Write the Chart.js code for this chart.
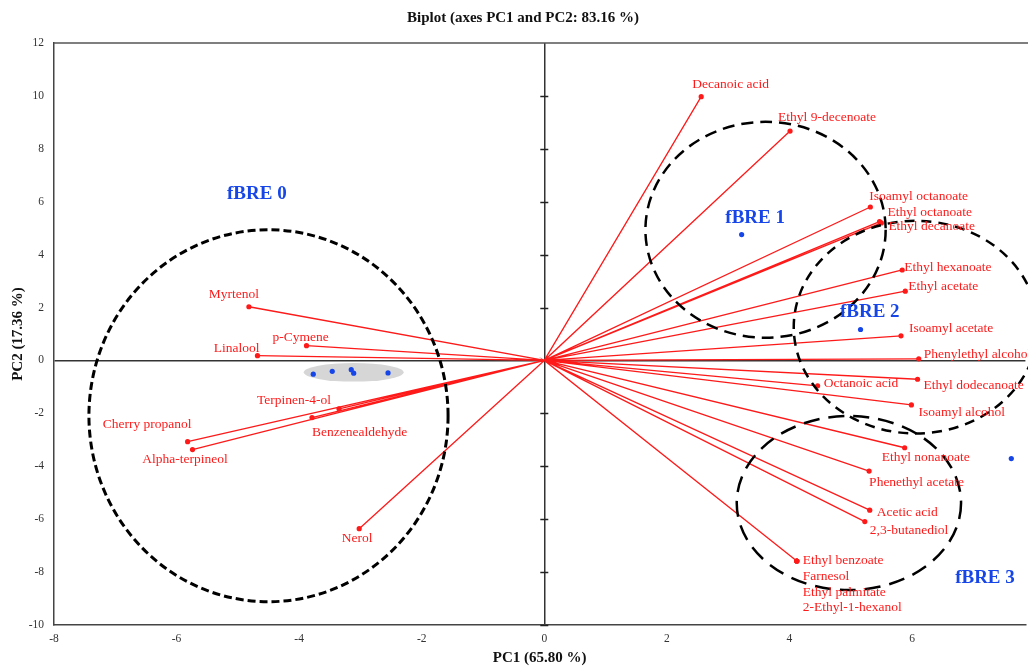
<!DOCTYPE html>
<html>
<head>
<meta charset="utf-8">
<title>Biplot (axes PC1 and PC2)</title>
<script src="https://cdn.jsdelivr.net/npm/chart.js@4.4.1/dist/chart.umd.min.js"></script>
<style>
    html, body { margin: 0; padding: 0; background: #fff; }
    #wrap { width: 1028px; height: 666px; }
</style>
</head>
<body>
<div id="wrap"><canvas id="biplot"></canvas></div>
<script>
// Variables (loadings)
const varNames = [
    'Decanoic acid', 'Ethyl 9-decenoate', 'Isoamyl octanoate', 'Ethyl octanoate', 'Ethyl decanoate',
    'Ethyl hexanoate', 'Ethyl acetate', 'Isoamyl acetate', 'Phenylethyl alcohol', 'Ethyl dodecanoate',
    'Octanoic acid', 'Isoamyl alcohol', 'Ethyl nonanoate', 'Phenethyl acetate', 'Acetic acid',
    '2,3-butanediol', 'Ethyl benzoate', 'Farnesol', 'Ethyl palmitate', '2-Ethyl-1-hexanol',
    'Myrtenol', 'p-Cymene', 'Linalool', 'Terpinen-4-ol', 'Benzenealdehyde',
    'Cherry propanol', 'Alpha-terpineol', 'Nerol'
];
const varPC1 = [
    2.56, 4.01, 5.32, 5.47, 5.50,
    5.84, 5.89, 5.82, 6.11, 6.09,
    4.46, 5.99, 5.88, 5.30, 5.31,
    5.23, 4.12, 4.12, 4.12, 4.12,
    -4.82, -3.88, -4.68, -3.35, -3.79,
    -5.82, -5.74, -3.02
];
const varPC2 = [
    9.97, 8.67, 5.80, 5.25, 5.20,
    3.42, 2.62, 0.93, 0.06, -0.71,
    -0.96, -1.68, -3.30, -4.18, -5.66,
    -6.09, -7.58, -7.58, -7.58, -7.58,
    2.03, 0.56, 0.18, -1.83, -2.16,
    -3.07, -3.37, -6.36
];

// Observations (scores)
const obsPC1 = [-3.77, -3.46, -3.15, -3.11, -2.55, 3.22, 5.16, 7.62];
const obsPC2 = [-0.52, -0.41, -0.35, -0.48, -0.47, 4.76, 1.17, -3.71];

// Groups and their ellipses (PC units)
const groupNames = ['fBRE 0', 'fBRE 1', 'fBRE 2', 'fBRE 3'];
const groupCX = [-4.50, 3.61, 6.06, 4.97];
const groupCY = [-2.09, 4.94, 1.26, -5.39];
const groupRX = [2.93, 1.96, 1.99, 1.83];
const groupRY = [7.03, 4.08, 4.02, 3.29];

// Grey ellipse around the fBRE 0 scores
const shadeCX = -3.11, shadeCY = -0.45, shadeRX = 0.815, shadeRY = 0.35;

const xTicks = [-8, -6, -4, -2, 0, 2, 4, 6];
const yTicks = [-10, -8, -6, -4, -2, 0, 2, 4, 6, 8, 10, 12];

// label placement: [dx, dy, align] in px from the point
const varLabelPos = [
    [-9, -12, 'left'], [-12, -14, 'left'], [-1, -11, 'left'], [8, -9, 'left'], [7, 4, 'left'],
    [2, -3, 'left'], [3, -5, 'left'], [8, -7, 'left'], [5, -4, 'left'], [6, 6, 'left'],
    [6, -2, 'left'], [7, 8, 'left'], [-23, 10, 'left'], [0, 11, 'left'], [7, 2, 'left'],
    [5, 9, 'left'], [6, -1, 'left'], [6, 15, 'left'], [6, 31, 'left'], [6, 46, 'left'],
    [-15, -12, 'center'], [-6, -8, 'center'], [2, -7, 'right'], [-8, -8, 'right'], [0, 15, 'left'],
    [4, -17, 'right'], [-7.5, 10, 'center'], [-2, 10, 'center']
];
// group label placement in PC units
const groupLabelAt = [[-4.69, 6.28], [3.44, 5.38], [5.31, 1.82], [7.19, -8.21]];
const groupDash = [[8, 4], [12, 7], [10, 7], [16, 9]];
const groupLineWidth = [3, 2.5, 2.5, 2.5];

const SERIF = "'Liberation Serif', 'Times New Roman', serif";
const RED = '#ff1a1a';
const BLUE = '#1746e8';

Chart.defaults.font.family = SERIF;

const vectorData = varPC1.flatMap((x, i) => [{ x: 0, y: 0 }, { x: x, y: varPC2[i] }]);
const obsData = obsPC1.map((x, i) => ({ x: x, y: obsPC2[i] }));

function ellipsePath(ctx, xs, ys, cx, cy, rx, ry) {
    const px = xs.getPixelForValue(cx);
    const py = ys.getPixelForValue(cy);
    const prx = Math.abs(xs.getPixelForValue(cx + rx) - px);
    const pry = Math.abs(ys.getPixelForValue(cy + ry) - py);
    ctx.beginPath();
    ctx.ellipse(px, py, prx, pry, 0, 0, Math.PI * 2);
}

const biplotDecor = {
    id: 'biplotDecor',
    beforeDatasetsDraw(chart) {
        const { ctx, scales: { x, y } } = chart;
        ctx.save();
        // grey shade
        ellipsePath(ctx, x, y, shadeCX, shadeCY, shadeRX, shadeRY);
        ctx.fillStyle = '#d6d6d6';
        ctx.fill();
        // tick marks on the vertical zero line
        const x0 = x.getPixelForValue(0);
        ctx.strokeStyle = '#222';
        ctx.lineWidth = 1.5;
        yTicks.forEach(v => {
            if (v === 0 || v === 12) return;
            const py = Math.round(y.getPixelForValue(v)) + 0.5;
            ctx.beginPath();
            ctx.moveTo(x0 - 4, py);
            ctx.lineTo(x0 + 4, py);
            ctx.stroke();
        });
        ctx.restore();
    },
    afterDatasetsDraw(chart) {
        const { ctx, chartArea, scales: { x, y } } = chart;
        ctx.save();
        // dashed group ellipses
        ctx.strokeStyle = '#000';
        groupNames.forEach((g, i) => {
            ctx.setLineDash(groupDash[i]);
            ctx.lineWidth = groupLineWidth[i];
            ellipsePath(ctx, x, y, groupCX[i], groupCY[i], groupRX[i], groupRY[i]);
            ctx.stroke();
        });
        ctx.setLineDash([]);

        // variable labels
        ctx.font = '13.5px ' + SERIF;
        ctx.fillStyle = RED;
        ctx.textBaseline = 'middle';
        varNames.forEach((name, i) => {
            const p = varLabelPos[i];
            ctx.textAlign = p[2];
            ctx.fillText(name, x.getPixelForValue(varPC1[i]) + p[0], y.getPixelForValue(varPC2[i]) + p[1]);
        });

        // group labels
        ctx.font = 'bold 19px ' + SERIF;
        ctx.fillStyle = BLUE;
        ctx.textAlign = 'center';
        groupNames.forEach((g, i) => {
            ctx.fillText(g, x.getPixelForValue(groupLabelAt[i][0]), y.getPixelForValue(groupLabelAt[i][1]));
        });

        // top frame line
        ctx.strokeStyle = '#555';
        ctx.lineWidth = 1.5;
        ctx.beginPath();
        ctx.moveTo(chartArea.left, chartArea.top);
        ctx.lineTo(chart.width, chartArea.top);
        ctx.stroke();
        ctx.restore();
    },
    afterDraw(chart) {
        const { ctx } = chart;
        ctx.save();
        ctx.font = 'bold 15px ' + SERIF;
        ctx.fillStyle = '#111';
        ctx.textAlign = 'center';
        ctx.textBaseline = 'middle';
        ctx.fillText('Biplot (axes PC1 and PC2: 83.16 %)', 523, 18);
        ctx.restore();
    }
};

const zeroGrid = {
    color: ctx => (ctx.tick && ctx.tick.value === 0) ? '#333' : 'rgba(0,0,0,0)',
    lineWidth: 1.5,
    drawTicks: false
};

new Chart(document.getElementById('biplot'), {
    type: 'scatter',
    data: {
        datasets: [{
            label: 'Variables',
            data: vectorData,
            showLine: true,
            borderColor: RED,
            borderWidth: 1.3,
            pointBackgroundColor: RED,
            pointBorderWidth: 0,
            pointRadius: ctx => ctx.dataIndex % 2 ? 2.6 : 0,
            pointHoverRadius: 0,
            tension: 0
        }, {
            label: 'Observations',
            data: obsData,
            pointBackgroundColor: BLUE,
            pointBorderWidth: 0,
            pointRadius: 2.6,
            pointHoverRadius: 0
        }]
    },
    options: {
        responsive: true,
        maintainAspectRatio: false,
        animation: false,
        layout: { padding: { top: 43, left: 0, right: 0, bottom: 0 } },
        plugins: {
            legend: { display: false },
            tooltip: { enabled: false }
        },
        scales: {
            x: {
                min: -8,
                max: 7.85,
                afterBuildTicks: s => { s.ticks = xTicks.map(v => ({ value: v })); },
                afterFit: s => { s.height = 41; },
                grid: zeroGrid,
                border: { display: true, color: '#444', width: 1.5 },
                ticks: { color: '#333', padding: 7, font: { size: 11.5 } },
                title: {
                    display: true,
                    text: 'PC1 (65.80 %)',
                    color: '#111',
                    font: { size: 15, weight: 'bold', lineHeight: 1 },
                    padding: { top: 0, bottom: 0 }
                }
            },
            y: {
                min: -10,
                max: 12,
                afterBuildTicks: s => { s.ticks = yTicks.map(v => ({ value: v })); },
                afterFit: s => { s.width = 54; },
                grid: zeroGrid,
                border: { display: true, color: '#444', width: 1.5 },
                ticks: { color: '#333', padding: 10, font: { size: 11.5 } },
                title: {
                    display: true,
                    text: 'PC2 (17.36 %)',
                    color: '#111',
                    font: { size: 15, weight: 'bold', lineHeight: 1 },
                    padding: { top: 11, bottom: 0 }
                }
            }
        }
    },
    plugins: [biplotDecor]
});
</script>
</body>
</html>
